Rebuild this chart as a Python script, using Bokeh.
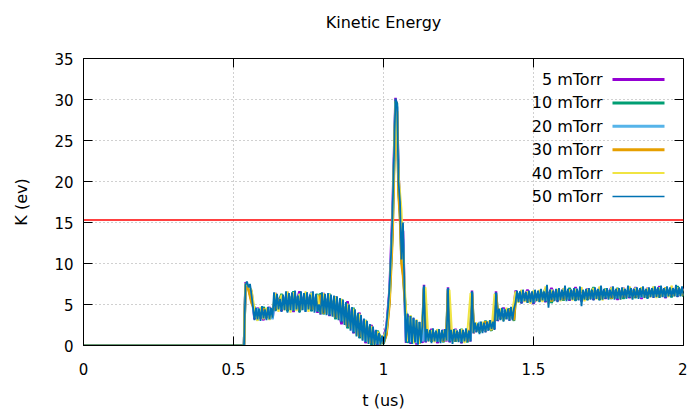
import math
import numpy as np
from bokeh.plotting import figure
from bokeh.models import (Range1d, FixedTicker, Span, BoxAnnotation, Label,
                          NumeralTickFormatter)
from bokeh.embed import file_html
from bokeh.resources import INLINE

# ---------------- data ----------------
title_text = "Kinetic Energy"
x_label = "t (us)"
y_label = "K (ev)"
x_ticks = [0, 0.5, 1, 1.5, 2]
y_ticks = [0, 5, 10, 15, 20, 25, 30, 35]
threshold = 15.3

series_names = ["5 mTorr", "10 mTorr", "20 mTorr", "30 mTorr", "40 mTorr", "50 mTorr"]
series_colors = ["#9400D3", "#009E73", "#56B4E9", "#E69F00", "#F0E442", "#0072B2"]
series_widths = [2.5, 2.5, 2.5, 2.5, 2, 1.8]
key_widths = [3, 3, 3, 3, 2, 1.3]

# quiet (zero) segment before the pulse
t_quiet = [0.0, 0.535]
k_quiet = [0.0, 0.0]

# regular sample grids for the two densest series
t_fine = np.round(np.arange(0.54, 2.0001, 0.005), 3).tolist()    # 50 mTorr
t_mid = np.round(np.arange(0.54, 2.0001, 0.01), 3).tolist()      # 40 mTorr

# sample times read for the 5..30 mTorr curves
t_coarse = [
    0.54, 0.55, 0.56, 0.57, 0.58, 0.60, 0.62, 0.63, 0.64, 0.66,
    0.68, 0.70, 0.72, 0.74, 0.76, 0.78, 0.785, 0.79, 0.80, 0.82,
    0.84, 0.86, 0.88, 0.90, 0.92, 0.94, 0.96, 0.98, 1.00, 1.01,
    1.02, 1.03, 1.04, 1.045, 1.05, 1.055, 1.06, 1.065, 1.07, 1.075,
    1.08, 1.09, 1.10, 1.11, 1.12, 1.13, 1.135, 1.14, 1.16, 1.18,
    1.20, 1.21, 1.215, 1.22, 1.24, 1.26, 1.28, 1.29, 1.295, 1.30,
    1.32, 1.34, 1.36, 1.37, 1.375, 1.38, 1.40, 1.42, 1.435, 1.44,
    1.46, 1.48, 1.50, 1.52, 1.54, 1.56, 1.58, 1.60, 1.62, 1.64,
    1.66, 1.68, 1.70, 1.72, 1.74, 1.76, 1.78, 1.80, 1.82, 1.84,
    1.86, 1.88, 1.90, 1.92, 1.94, 1.96, 1.98, 2.00,
]

k_50 = [
    7.4, 7.8, 7.1, 7.5, 6.2, 4.7, 3.1, 4.6, 3.2, 4.5,
    3.0, 4.8, 3.3, 4.4, 3.1, 4.7, 3.2, 4.6, 3.4, 6.5,
    4.2, 6.3, 4.4, 5.7, 4.1, 6.2, 4.3, 6.6, 4.0, 6.4,
    4.3, 6.5, 4.2, 6.7, 4.4, 6.1, 4.0, 6.6, 4.3, 6.4,
    4.1, 6.5, 4.4, 6.2, 4.2, 6.6, 4.0, 6.3, 4.1, 5.0,
    3.8, 6.5, 3.9, 6.3, 3.7, 6.4, 3.6, 6.2, 3.5, 6.1,
    3.3, 6.0, 3.1, 5.8, 2.8, 5.6, 2.5, 5.3, 2.2, 5.0,
    1.8, 4.7, 1.5, 4.4, 1.1, 4.0, 0.9, 3.7, 0.6, 3.3,
    0.4, 3.0, 0.2, 2.6, 0.1, 2.3, 0.0, 1.9, 0.1, 1.5,
    0.1, 1.2, 0.2, 1.0, 2.5, 4.5, 7.0, 11.0, 16.0, 23.0,
    30.1, 29.5, 20.0, 17.5, 10.5, 15.0, 6.5, 0.4, 3.9, 0.3,
    3.6, 0.2, 3.4, 0.4, 3.1, 0.1, 2.9, 0.3, 2.7, 7.3,
    0.4, 2.0, 0.5, 1.9, 0.3, 2.1, 0.5, 1.8, 0.4, 2.0,
    0.3, 1.9, 0.5, 2.0, 0.6, 7.0, 0.4, 1.9, 0.2, 2.0,
    0.5, 1.8, 0.4, 2.0, 0.3, 1.9, 0.5, 2.1, 0.4, 1.8,
    0.5, 6.6, 1.5, 2.8, 1.6, 2.7, 1.4, 2.9, 1.5, 2.8,
    1.6, 2.9, 1.8, 3.1, 2.0, 2.9, 1.9, 6.5, 3.0, 4.5,
    3.1, 4.6, 2.9, 4.4, 3.2, 4.5, 3.0, 4.7, 3.1, 4.5,
    5.2, 6.7, 5.3, 6.6, 5.1, 6.8, 5.4, 6.5, 5.2, 6.7,
    5.3, 6.6, 5.1, 6.8, 5.4, 6.7, 5.3, 6.9, 5.5, 6.6,
    5.3, 7.4, 4.6, 6.8, 5.5, 6.7, 5.4, 6.9, 5.3, 7.0,
    5.5, 6.8, 5.6, 7.3, 5.4, 6.9, 5.5, 6.8, 5.6, 7.0,
    5.4, 6.9, 5.5, 7.2, 4.8, 6.8, 5.6, 6.9, 5.5, 7.0,
    5.6, 6.8, 5.5, 7.1, 5.7, 6.9, 5.5, 7.3, 5.6, 6.9,
    5.7, 7.0, 5.6, 6.8, 5.8, 7.2, 5.6, 6.9, 5.7, 7.0,
    5.6, 7.1, 5.8, 6.9, 5.7, 7.3, 5.8, 7.0, 5.6, 6.9,
    5.8, 7.1, 5.7, 7.0, 5.9, 7.2, 5.8, 6.9, 5.7, 7.1,
    5.9, 7.0, 5.8, 7.2, 5.9, 7.1, 5.8, 7.3, 5.9, 7.0,
    5.8, 7.2, 6.0, 7.1, 5.9, 7.0, 6.0, 7.4, 5.9, 7.1,
    6.0, 7.2, 6.1,
]

k_40 = [
    7.6, 7.3, 6.8, 4.5, 3.0, 4.7, 3.2, 4.6, 3.1, 4.4,
    6.4, 4.1, 6.2, 4.3, 6.6, 4.0, 6.5, 4.2, 6.3, 4.4,
    6.6, 4.1, 6.4, 4.3, 6.2, 3.9, 6.4, 3.8, 6.3, 3.6,
    6.0, 3.2, 5.7, 2.6, 5.1, 2.0, 4.5, 1.2, 3.9, 0.7,
    3.1, 0.2, 2.4, 0.0, 1.7, 0.1, 1.1, 1.8, 6.0, 15.0,
    29.8, 21.0, 16.5, 8.0, 0.5, 3.7, 0.3, 3.2, 0.2, 2.8,
    7.1, 0.5, 1.9, 0.4, 2.0, 0.5, 1.8, 0.6, 6.8, 0.4,
    1.9, 0.5, 2.0, 0.3, 1.9, 6.4, 1.5, 2.8, 1.6, 2.9,
    1.7, 3.0, 1.9, 6.3, 3.1, 4.5, 3.0, 4.6, 3.2, 4.4,
    6.6, 5.2, 6.8, 5.3, 6.6, 5.1, 6.7, 5.4, 6.8, 5.3,
    7.2, 5.0, 6.8, 5.5, 6.9, 5.4, 7.0, 5.6, 6.8, 5.5,
    6.9, 5.6, 7.1, 5.4, 6.9, 5.7, 7.0, 5.6, 7.2, 5.5,
    6.9, 5.7, 7.1, 5.8, 6.9, 5.6, 7.0, 5.8, 7.2, 5.7,
    7.0, 5.9, 7.1, 5.8, 7.0, 5.9, 7.2, 5.8, 7.1, 6.0,
    7.0, 5.9, 7.3, 6.0, 7.1, 6.1, 6.9,
]

k_5 = [
    7.7, 7.2, 6.6, 3.2, 4.6, 3.1, 4.7, 3.3, 6.4, 4.2,
    6.5, 4.1, 6.6, 4.2, 6.5, 4.0, 4.9, 3.8, 6.4, 3.6,
    6.0, 2.6, 5.4, 1.5, 4.0, 0.3, 2.5, 0.0, 0.9, 2.4,
    6.8, 16.5, 30.2, 29.0, 21.0, 17.0, 12.0, 14.0, 6.6, 0.3,
    3.8, 0.2, 3.3, 0.1, 2.8, 0.3, 7.4, 0.4, 2.0, 0.3,
    1.9, 0.5, 7.1, 0.4, 2.0, 0.3, 1.9, 0.5, 6.7, 1.5,
    2.8, 1.7, 3.0, 2.0, 6.6, 3.0, 4.6, 3.1, 4.6, 6.7,
    5.2, 6.8, 5.1, 6.7, 5.3, 7.0, 5.4, 6.9, 5.5, 7.1,
    5.4, 6.9, 5.6, 7.0, 5.7, 7.1, 5.6, 7.0, 5.8, 7.1,
    5.7, 7.0, 5.9, 7.2, 5.8, 7.1, 6.0, 7.0,
]

k_10 = [
    7.4, 6.9, 5.5, 4.6, 3.1, 4.7, 3.2, 4.5, 4.3, 6.3,
    4.2, 6.6, 4.1, 6.4, 4.2, 6.3, 4.1, 6.4, 3.8, 6.3,
    3.2, 5.6, 2.1, 4.6, 0.9, 3.1, 0.1, 1.8, 0.2, 1.5,
    5.5, 14.0, 29.8, 29.5, 19.0, 16.0, 10.5, 9.0, 6.3, 4.0,
    0.3, 3.6, 0.3, 3.0, 0.2, 2.6, 7.1, 2.0, 0.5, 1.9,
    0.4, 1.8, 6.9, 1.9, 0.5, 2.0, 0.4, 2.1, 6.5, 2.8,
    1.6, 3.0, 1.8, 3.1, 6.4, 4.5, 3.1, 4.5, 3.0, 5.4,
    6.7, 5.3, 6.6, 5.4, 6.9, 5.2, 6.8, 5.5, 7.0, 5.5,
    6.8, 5.6, 7.1, 5.6, 6.9, 5.7, 7.0, 5.7, 7.1, 5.8,
    7.0, 5.8, 7.1, 5.9, 7.0, 5.9, 7.2, 6.0,
]

k_20 = [
    7.5, 7.0, 6.0, 3.4, 4.5, 3.3, 4.6, 3.2, 6.1, 4.4,
    6.4, 4.3, 6.3, 4.2, 6.5, 4.2, 4.8, 3.9, 6.2, 3.8,
    5.9, 3.0, 5.0, 1.7, 3.8, 0.5, 2.2, 0.2, 0.8, 2.0,
    6.2, 15.0, 29.5, 29.2, 20.5, 17.2, 11.0, 13.0, 6.4, 0.5,
    3.5, 0.4, 3.2, 0.3, 2.8, 0.5, 7.0, 0.6, 1.8, 0.5,
    1.8, 0.6, 6.8, 0.6, 1.9, 0.5, 1.8, 0.6, 6.4, 1.7,
    2.8, 1.8, 2.9, 2.1, 6.3, 3.2, 4.4, 3.2, 4.4, 6.4,
    5.4, 6.6, 5.3, 6.5, 5.5, 6.8, 5.6, 6.8, 5.7, 6.9,
    5.6, 6.8, 5.8, 6.9, 5.9, 7.0, 5.8, 6.9, 6.0, 7.0,
    5.9, 6.9, 6.0, 7.0, 6.0, 7.0, 6.1, 6.9,
]

k_30 = [
    7.3, 6.8, 5.2, 4.4, 3.2, 4.5, 3.3, 4.4, 4.5, 6.0,
    4.4, 6.4, 4.3, 6.3, 4.4, 6.0, 4.2, 6.2, 3.9, 6.1,
    3.4, 5.5, 2.3, 4.4, 1.1, 2.9, 0.3, 1.6, 0.3, 1.3,
    5.0, 13.0, 29.0, 28.5, 18.5, 15.5, 10.0, 8.5, 6.0, 3.8,
    0.6, 3.4, 0.4, 3.0, 0.4, 2.5, 6.9, 1.8, 0.6, 1.8,
    0.5, 1.7, 6.7, 1.8, 0.6, 1.9, 0.5, 2.0, 6.3, 2.7,
    1.7, 2.9, 1.9, 3.0, 6.2, 4.4, 3.2, 4.4, 3.1, 5.5,
    6.5, 5.4, 6.5, 5.5, 6.7, 5.4, 6.7, 5.6, 6.8, 5.7,
    6.7, 5.7, 6.9, 5.8, 6.8, 5.8, 6.9, 5.9, 6.9, 5.9,
    7.0, 6.0, 6.9, 6.0, 7.0, 6.1, 7.0, 6.1,
]

series_t = [t_coarse, t_coarse, t_coarse, t_coarse, t_mid, t_fine]
series_k = [k_5, k_10, k_20, k_30, k_40, k_50]

# ---------------- figure ----------------
FONT = "DejaVu Sans"
TICK_LEN = 9

p = figure(width=687, height=412, output_backend="svg", toolbar_location=None,
           x_range=Range1d(x_ticks[0], x_ticks[-1]), y_range=Range1d(y_ticks[0], y_ticks[-1]),
           min_border_left=83, min_border_right=4, min_border_top=58, min_border_bottom=67,
           background_fill_color="white", border_fill_color="white")
p.outline_line_color = "black"
p.outline_line_width = 1

# the trailing empty line reserves space below the title so it sits higher, as in gnuplot
p.title.text = title_text + "\n"
p.title.align = "center"
p.title.vertical_align = "top"
p.title.standoff = 11
p.title.text_font = FONT
p.title.text_font_size = "16px"
p.title.text_font_style = "normal"
p.title.text_color = "black"

for ax, ticks in ((p.xaxis[0], x_ticks), (p.yaxis[0], y_ticks)):
    ax.ticker = FixedTicker(ticks=ticks)
    ax.formatter = NumeralTickFormatter(format="0.[0]")
    ax.major_tick_in = TICK_LEN
    ax.major_tick_out = 0
    ax.minor_tick_in = 0
    ax.minor_tick_out = 0
    ax.axis_line_color = "black"
    ax.major_tick_line_color = "black"
    ax.major_label_text_font = FONT
    ax.major_label_text_font_size = "15px"
    ax.major_label_text_color = "black"
    ax.axis_label_text_font = FONT
    ax.axis_label_text_font_size = "16px"
    ax.axis_label_text_font_style = "normal"
    ax.axis_label_text_color = "black"

p.xaxis[0].axis_label = x_label
p.xaxis[0].major_label_standoff = 17
p.xaxis[0].axis_label_standoff = 13
p.yaxis[0].axis_label = y_label
p.yaxis[0].major_label_standoff = 10
p.yaxis[0].axis_label_standoff = 20

for g, ticks in ((p.xgrid[0], x_ticks), (p.ygrid[0], y_ticks)):
    g.ticker = FixedTicker(ticks=ticks)
    g.grid_line_color = "#a0a0a0"
    g.grid_line_dash = "1 3"
    g.grid_line_width = 1

# mirrored inward tick marks on the top and right borders
p.ray(x=x_ticks, y=[y_ticks[-1]] * len(x_ticks), length=TICK_LEN, length_units="screen",
      angle=-math.pi / 2, line_color="black", line_width=1)
p.ray(x=[x_ticks[-1]] * len(y_ticks), y=y_ticks, length=TICK_LEN, length_units="screen",
      angle=math.pi, line_color="black", line_width=1)

p.add_layout(Span(location=threshold, dimension="width", line_color="#ff0000",
                  line_width=1.5, level="underlay"))

for t, k, c, w in zip(series_t, series_k, series_colors, series_widths):
    p.line(t_quiet + t, k_quiet + k, line_color=c, line_width=w)

# gnuplot-style key: right-aligned text, sample line to its right (frame pixels)
KEY_TEXT_RIGHT = 519
KEY_LINE_LEFT, KEY_LINE_RIGHT = 529, 581
KEY_TOP, KEY_STEP = 266, 23.4
for i, (name, c, w) in enumerate(zip(series_names, series_colors, key_widths)):
    yc = KEY_TOP - KEY_STEP * i
    p.add_layout(Label(x=KEY_TEXT_RIGHT, y=yc, x_units="screen", y_units="screen",
                       text=name, text_align="right", text_baseline="middle",
                       text_font=FONT, text_font_size="16px", text_color="black"))
    p.add_layout(BoxAnnotation(left=KEY_LINE_LEFT, right=KEY_LINE_RIGHT,
                               bottom=yc - w / 2, top=yc + w / 2,
                               left_units="screen", right_units="screen",
                               bottom_units="screen", top_units="screen",
                               fill_color=c, fill_alpha=1.0, line_color=None))

open("out.html", "w").write(file_html(p, INLINE))
